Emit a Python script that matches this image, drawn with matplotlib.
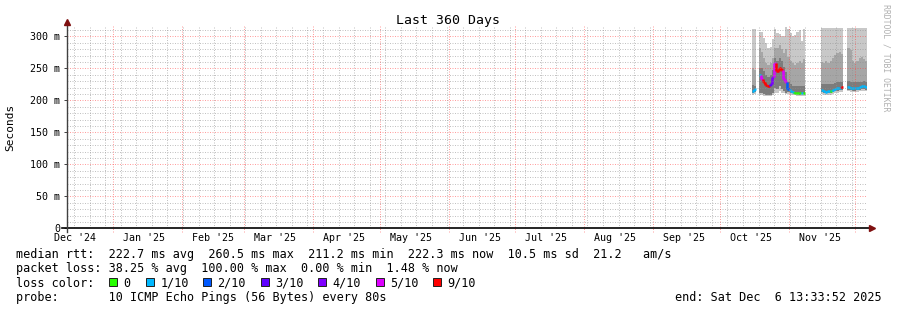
import numpy as np
import pandas as pd
import matplotlib
matplotlib.use("Agg")
import matplotlib.pyplot as plt
import matplotlib.dates as mdates
from matplotlib.patches import Rectangle

W, H = 897, 310
MONO = "DejaVu Sans Mono"

END = pd.Timestamp("2025-12-06 13:33:52")
START = END - pd.Timedelta(days=360)

# one value per day, Oct 16 .. Dec 6 2025 (nan = no data)
days = pd.date_range("2025-10-16", "2025-12-06", freq="D")
nan = np.nan
rtt_max = [312, 312, nan, 306, 306, 298, 290, 281, 283, 296, 312, 305, 303, 300, 300, 314,
           312, 305, 300, 302, 306, 310, 292, 312] + [nan] * 7 + [313] * 10 + [nan, nan] + [313] * 9
rtt_up = [250, 248, nan, 282, 276, 266, 258, 255, 258, 266, 282, 282, 286, 280, 274, 280,
          268, 262, 258, 255, 258, 262, 258, 265] + [nan] * 7 + \
         [260, 258, 262, 258, 262, 266, 270, 274, 275, 272] + [nan, nan] + \
         [282, 278, 262, 258, 262, 266, 268, 265, 262]
rtt_hi = [224, 222, nan, 250, 250, 246, 240, 236, 240, 248, 266, 262, 266, 262, 252, 244,
          228, 225, 222, 222, 222, 222, 222, 222] + [nan] * 7 + \
         [226, 226, 226, 225, 226, 226, 227, 228, 228, 229] + [nan, nan] + \
         [230, 229, 228, 228, 228, 229, 229, 230, 229]
rtt_med = [215, 217, nan, 240, 234, 228, 224, 222, 226, 236, 258, 246, 250, 248, 234, 228,
           218, 215, 213, 212, 212, 211, 212, 212] + [nan] * 7 + \
          [216, 214, 213, 214, 215, 216, 217, 219, 220, 221] + [nan, nan] + \
          [221, 220, 219, 219, 220, 221, 222, 222, 221]
rtt_lo = [212, 213, nan, 212, 212, 210, 209, 208, 209, 212, 220, 218, 222, 218, 215, 212,
          213, 212, 211, 210, 210, 209, 210, 210] + [nan] * 7 + \
         [213, 212, 211, 212, 212, 213, 214, 215, 216, 216] + [nan, nan] + \
         [216, 216, 215, 215, 216, 216, 217, 217, 216]
rtt_min = [209, 210, nan, 208, 209, 207, 206, 206, 206, 208, 212, 212, 214, 212, 211, 210,
           210, 209, 208, 208, 207, 207, 207, 207] + [nan] * 7 + \
          [210, 209, 208, 209, 209, 210, 211, 212, 213, 213] + [nan, nan] + \
          [214, 213, 213, 213, 213, 214, 214, 214, 214]
loss = [1, 1, nan, 1, 5, 9, 9, 9, 3, 4, 5, 9, 9, 9, 5, 5,
        2, 1, 1, 0, 0, 0, 1, 0] + [nan] * 7 + \
       [1, 1, 1, 1, 0, 1, 1, 1, 1, 9] + [nan, nan] + [1] * 9

loss_labels = ["0", "1/10", "2/10", "3/10", "4/10", "5/10", "9/10"]
loss_levels = [0, 1, 2, 3, 4, 5, 9]
loss_colors = ["#26ff00", "#00b8ff", "#0059ff", "#5e00ff", "#7e00ff", "#dd00ff", "#ff0000"]

month_labels = ["Dec '24", "Jan '25", "Feb '25", "Mar '25", "Apr '25", "May '25",
                "Jun '25", "Jul '25", "Aug '25", "Sep '25", "Oct '25", "Nov '25"]
y_ticks = [0, 50, 100, 150, 200, 250, 300]
y_labels = ["0", "50 m", "100 m", "150 m", "200 m", "250 m", "300 m"]

legend_rows = [
    "median rtt:  222.7 ms avg  260.5 ms max  211.2 ms min  222.3 ms now  10.5 ms sd  21.2   am/s",
    "packet loss: 38.25 % avg  100.00 % max  0.00 % min  1.48 % now",
]
probe_text = "probe:       10 ICMP Echo Pings (56 Bytes) every 80s"
end_text = "end: Sat Dec  6 13:33:52 2025"


def fx(x):
    return x / W


def fy(y):
    return 1 - y / H


def main():
    fig = plt.figure(figsize=(W / 100, H / 100), dpi=100)
    fig.patch.set_facecolor("white")
    ax = fig.add_axes([fx(66.5), fy(228.3), 800 / W, 202.3 / H])
    ymax = 202.3 / 0.64
    x0, x1 = mdates.date2num(START), mdates.date2num(END)
    ax.set_xlim(x0, x1)
    ax.set_ylim(0, ymax)
    for s in ax.spines.values():
        s.set_visible(False)

    xd = mdates.date2num(days)
    hi, up, qh = np.array(rtt_max, float), np.array(rtt_up, float), np.array(rtt_hi, float)
    med, ql, lo = np.array(rtt_med, float), np.array(rtt_lo, float), np.array(rtt_min, float)
    ls = np.array(loss, float)

    # smoke
    ok = ~np.isnan(hi)
    ax.bar(xd[ok], hi[ok] - lo[ok], bottom=lo[ok], width=1, align="edge", color="#c8c8c8", lw=0, zorder=1)
    ax.bar(xd[ok], up[ok] - ql[ok], bottom=ql[ok], width=1, align="edge", color="#a6a6a6", lw=0, zorder=2)
    ax.bar(xd[ok], qh[ok] - ql[ok], bottom=ql[ok], width=1, align="edge", color="#7c7c7c", lw=0, zorder=3)

    # median coloured by loss
    cmap = dict(zip(loss_levels, loss_colors))
    for i in range(len(xd)):
        if np.isnan(med[i]):
            continue
        c = cmap[int(ls[i])]
        ax.hlines(med[i], xd[i], xd[i] + 1, colors=c, lw=1.8, zorder=5)
        if i > 0 and not np.isnan(med[i - 1]):
            ax.vlines(xd[i], med[i - 1], med[i], colors=c, lw=1.8, zorder=5)

    # grid (dotted)
    dots = (0, (1, 1.5))
    weeks = pd.date_range(START, END, freq="W-SUN").normalize()
    months = pd.date_range(START, END, freq="MS")
    ax.vlines(mdates.date2num(weeks), 0, ymax, colors="#909090", alpha=0.55, lw=0.72,
              linestyles=dots, zorder=6)
    minor_y = [v for v in range(10, 320, 10) if v % 50]
    ax.hlines(minor_y, x0, x1, colors="#909090", alpha=0.55, lw=0.72, linestyles=dots, zorder=6)
    ax.hlines(y_ticks[1:], x0, x1, colors="#ff4040", alpha=0.5, lw=0.72, linestyles=dots, zorder=7)
    ax.vlines(mdates.date2num(months), -5, ymax, colors="#ff4040", alpha=0.5, lw=0.72,
              linestyles=dots, zorder=7, clip_on=False)

    # axes lines with arrows
    ax.plot([-4.5 / 800, 803 / 800], [0, 0], color="black", lw=1.2, transform=ax.transAxes,
            clip_on=False, zorder=8)
    ax.plot([805 / 800], [0], marker=">", ms=4.5, color="#7f1010", transform=ax.transAxes,
            clip_on=False, zorder=9)
    ax.plot([0, 0], [-3.5 / 202.3, 1.0], color="#404040", lw=1.0, transform=ax.transAxes,
            clip_on=False, zorder=8)
    ax.plot([0], [1.02], marker="^", ms=4.5, color="#7f1010", transform=ax.transAxes,
            clip_on=False, zorder=9)

    # ticks
    label_pos = [pd.Timestamp(2024, 12, 15, 12) + pd.DateOffset(months=i) for i in range(len(month_labels))]
    ax.set_xticks(mdates.date2num(label_pos))
    ax.set_xticklabels(month_labels, family=MONO, fontsize=7.2)
    ax.tick_params(axis="x", length=0, pad=3.6)
    ax.set_yticks(y_ticks)
    ax.set_yticklabels(y_labels, family=MONO, fontsize=7.2)
    ax.tick_params(axis="y", length=2.2, width=0.7, color="#404040", pad=2.2)

    # texts
    fig.text(fx(448), fy(24), "Last 360 Days", ha="center", va="baseline", family=MONO, fontsize=9.5)
    fig.text(fx(10), fy(127), "Seconds", rotation=90, ha="center", va="center", family=MONO, fontsize=8)
    fig.text(fx(886), fy(4), "RRDTOOL / TOBI OETIKER", rotation=-90, ha="center", va="top",
             family=MONO, fontsize=5.9, color="#b0b0b0")

    fig.text(fx(16), fy(258), legend_rows[0], family=MONO, fontsize=8.5, va="baseline")
    fig.text(fx(16), fy(272.3), legend_rows[1], family=MONO, fontsize=8.5, va="baseline")
    fig.text(fx(16), fy(286.6), "loss color:", family=MONO, fontsize=8.5, va="baseline")
    sq_x = [109, 146, 203, 261, 318, 376, 433]
    for sx, lab, col in zip(sq_x, loss_labels, loss_colors):
        fig.add_artist(Rectangle((fx(sx), fy(286.3)), 8 / W, 8 / H, transform=fig.transFigure,
                                 facecolor=col, edgecolor="#202020", lw=0.7))
        fig.text(fx(sx + 14.5), fy(286.6), lab, family=MONO, fontsize=8.5, va="baseline")
    fig.text(fx(16), fy(301), probe_text, family=MONO, fontsize=8.5, va="baseline")
    fig.text(fx(882), fy(301), end_text, family=MONO, fontsize=8.5, va="baseline", ha="right")

    fig.savefig("out.png", dpi=100)


if __name__ == "__main__":
    main()
